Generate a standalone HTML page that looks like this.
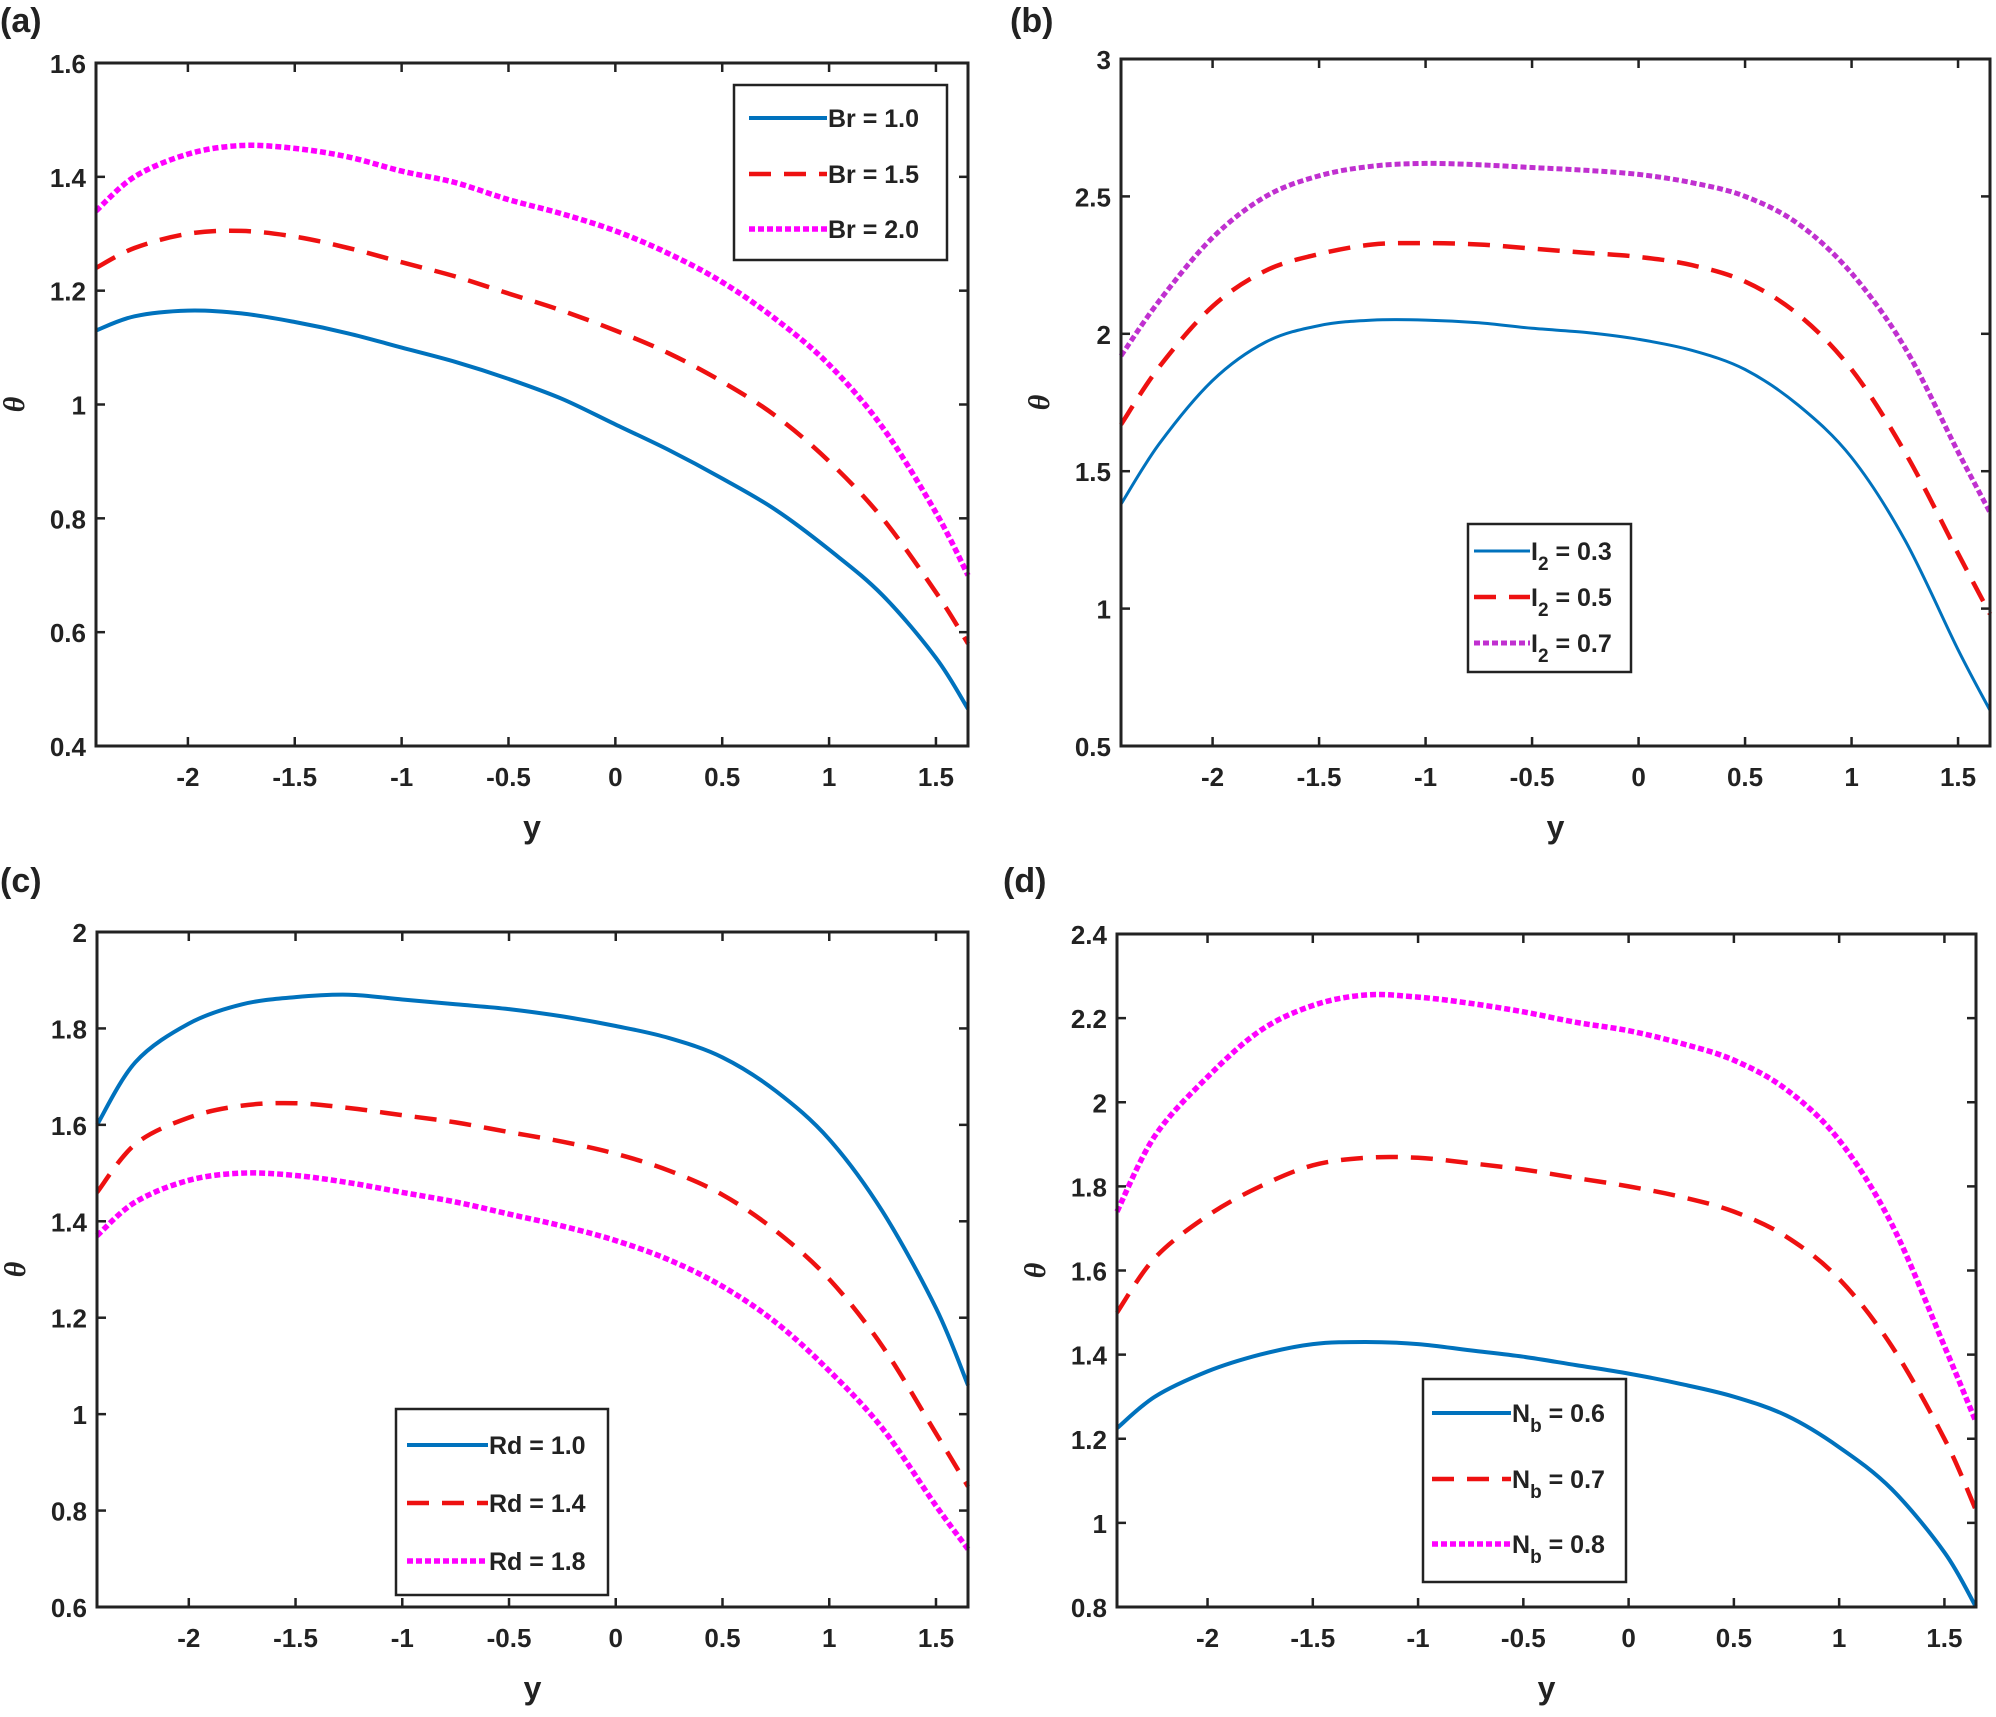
<!DOCTYPE html>
<html><head><meta charset="utf-8">
<style>
body{margin:0;background:#fff;}
svg text{font-family:"Liberation Sans",Arial,sans-serif;font-weight:bold;fill:#222;}
</style></head>
<body>
<svg id="fig" width="1996" height="1712" viewBox="0 0 1996 1712" xmlns="http://www.w3.org/2000/svg"></svg>
<script>
const xs = [-2.43,-2.25,-2,-1.75,-1.5,-1.25,-1,-0.75,-0.5,-0.25,0,0.25,0.5,0.75,1,1.25,1.5,1.65];
const xTicks = [-2,-1.5,-1,-0.5,0,0.5,1,1.5];
const xTickLabels = ["-2","-1.5","-1","-0.5","0","0.5","1","1.5"];

const aBlue = [1.13,1.155,1.165,1.16,1.145,1.125,1.10,1.075,1.045,1.01,0.965,0.92,0.87,0.815,0.745,0.665,0.555,0.465];
const aRed = [1.24,1.275,1.30,1.305,1.295,1.275,1.25,1.225,1.195,1.165,1.13,1.09,1.04,0.98,0.90,0.80,0.67,0.58];
const aMag = [1.34,1.40,1.44,1.455,1.45,1.435,1.41,1.39,1.36,1.335,1.305,1.265,1.215,1.15,1.07,0.96,0.81,0.70];
const aYTicks = [0.4,0.6,0.8,1,1.2,1.4,1.6];
const aYLabels = ["0.4","0.6","0.8","1","1.2","1.4","1.6"];

const bBlue = [1.38,1.6,1.83,1.97,2.03,2.05,2.05,2.04,2.02,2.005,1.98,1.94,1.87,1.74,1.55,1.25,0.85,0.63];
const bRed = [1.67,1.88,2.1,2.23,2.29,2.325,2.33,2.325,2.31,2.295,2.28,2.25,2.19,2.07,1.87,1.57,1.2,0.98];
const bMag = [1.92,2.12,2.35,2.5,2.575,2.61,2.62,2.615,2.605,2.595,2.58,2.55,2.5,2.4,2.22,1.95,1.57,1.35];
const bYTicks = [0.5,1,1.5,2,2.5,3];
const bYLabels = ["0.5","1","1.5","2","2.5","3"];

const cBlue = [1.60,1.73,1.81,1.85,1.865,1.87,1.86,1.85,1.84,1.825,1.805,1.78,1.74,1.67,1.57,1.42,1.22,1.06];
const cRed = [1.46,1.56,1.615,1.64,1.645,1.635,1.62,1.605,1.585,1.565,1.54,1.505,1.455,1.38,1.28,1.14,0.96,0.85];
const cMag = [1.37,1.44,1.485,1.5,1.495,1.48,1.46,1.44,1.415,1.39,1.36,1.32,1.265,1.19,1.09,0.97,0.81,0.72];
const cYTicks = [0.6,0.8,1,1.2,1.4,1.6,1.8,2];
const cYLabels = ["0.6","0.8","1","1.2","1.4","1.6","1.8","2"];

const dBlue = [1.225,1.30,1.36,1.40,1.425,1.43,1.425,1.41,1.395,1.375,1.355,1.33,1.30,1.255,1.18,1.08,0.93,0.80];
const dRed = [1.50,1.63,1.73,1.80,1.85,1.868,1.868,1.855,1.84,1.82,1.80,1.775,1.74,1.68,1.58,1.42,1.20,1.03];
const dMag = [1.74,1.92,2.06,2.17,2.23,2.255,2.25,2.235,2.215,2.19,2.17,2.14,2.1,2.03,1.91,1.71,1.42,1.24];
const dYTicks = [0.8,1,1.2,1.4,1.6,1.8,2,2.2,2.4];
const dYLabels = ["0.8","1","1.2","1.4","1.6","1.8","2","2.2","2.4"];

const NS="http://www.w3.org/2000/svg";
const svg=document.getElementById('fig');
function mk(tag,attrs,parent){const e=document.createElementNS(NS,tag);for(const k in attrs)e.setAttribute(k,attrs[k]);(parent||svg).appendChild(e);return e;}
const STY={blue:{stroke:'#0072BD',w:4,dash:''},blueThin:{stroke:'#0072BD',w:3,dash:''},red:{stroke:'#EE1111',w:4.5,dash:'22,13'},mag:{stroke:'#FF00FF',w:5.5,dash:'6,3'},purp:{stroke:'#C030D0',w:5,dash:'6,3'}};

function smooth(pts){
  let d='M'+pts[0][0].toFixed(1)+','+pts[0][1].toFixed(1);
  for(let i=0;i<pts.length-1;i++){
    const p0=pts[Math.max(0,i-1)],p1=pts[i],p2=pts[i+1],p3=pts[Math.min(pts.length-1,i+2)];
    const c1x=p1[0]+(p2[0]-p0[0])/6,c1y=p1[1]+(p2[1]-p0[1])/6;
    const c2x=p2[0]-(p3[0]-p1[0])/6,c2y=p2[1]-(p3[1]-p1[1])/6;
    d+='C'+c1x.toFixed(1)+','+c1y.toFixed(1)+' '+c2x.toFixed(1)+','+c2y.toFixed(1)+' '+p2[0].toFixed(1)+','+p2[1].toFixed(1);
  }
  return d;
}

function panel(p){
  const g=mk('g',{});
  
  
  const X=v=>p.L+(v-(-2.43))/(1.65-(-2.43))*(p.R-p.L);
  const Y=v=>p.B-(v-p.ymin)/(p.ymax-p.ymin)*(p.B-p.T);
  const lab=mk('text',{x:p.lx,y:p.ly,'font-size':34},g);lab.textContent='('+p.id+')';
  
  
  p.series.forEach(s=>{
    const st=STY[s.k];
    const pts=s.v.map((v,i)=>[X(xs[i]),Y(v)]);
    const path=mk('path',{d:smooth(pts),fill:'none',stroke:st.stroke,'stroke-width':st.w,'stroke-dasharray':st.dash,'stroke-linejoin':'round'},g);
    
    
  });
  const box=mk('rect',{x:p.L,y:p.T,width:p.R-p.L,height:p.B-p.T,fill:'none',stroke:'#222','stroke-width':3},g);
  
  
  xTicks.forEach((t,i)=>{
    const x=X(t);
    mk('line',{x1:x,x2:x,y1:p.B,y2:p.B-9,stroke:'#222','stroke-width':2.5},g);
    mk('line',{x1:x,x2:x,y1:p.T,y2:p.T+9,stroke:'#222','stroke-width':2.5},g);
    const tx=mk('text',{x:x,y:p.B+40,'font-size':26,'text-anchor':'middle'},g);tx.textContent=xTickLabels[i];
    
    
  });
  p.yt.forEach((t,i)=>{
    const y=Y(t);
    mk('line',{x1:p.L,x2:p.L+9,y1:y,y2:y,stroke:'#222','stroke-width':2.5},g);
    mk('line',{x1:p.R,x2:p.R-9,y1:y,y2:y,stroke:'#222','stroke-width':2.5},g);
    const tx=mk('text',{x:p.L-10,y:y+10,'font-size':26,'text-anchor':'end'},g);tx.textContent=p.yl[i];
    
    
  });
  const xl=mk('text',{x:(p.L+p.R)/2,y:p.B+92,'font-size':32,'text-anchor':'middle'},g);xl.textContent='y';
  
  
  const yx=p.L-72,yy=(p.T+p.B)/2;
  const yl=mk('text',{x:yx,y:yy,'font-size':30,'text-anchor':'middle','font-style':'italic',transform:'rotate(-90 '+yx+' '+yy+')'},g);
  yl.style.fontFamily='"Liberation Serif",serif';yl.textContent='θ';
  
  
  const lg=p.leg;
  const lgg=mk('g',{},g);
  
  
  mk('rect',{x:lg.x,y:lg.y,width:lg.w,height:lg.h,fill:'#fff',stroke:'#222','stroke-width':2.5},lgg);
  lg.items.forEach((it,i)=>{
    const st=STY[it.k];const y=lg.rows[i];
    const ent=mk('g',{},lgg);
    
    
    mk('line',{x1:lg.l1,x2:lg.l2,y1:y,y2:y,stroke:st.stroke,'stroke-width':st.w,'stroke-dasharray':st.dash},ent);
    const t=mk('text',{x:lg.l2+1,y:y+9,'font-size':25},ent);
    if(it.sub){t.textContent=it.a;const s=mk('tspan',{'font-size':19,dy:10},t);s.textContent=it.sub;const r=mk('tspan',{dy:-10},t);r.textContent=it.b;}
    else t.textContent=it.a;
  });
}

panel({id:'a',L:96,R:968,T:63,B:746,ymin:0.4,ymax:1.6,yt:aYTicks,yl:aYLabels,lx:0,ly:32,
  series:[{k:'blue',v:aBlue},{k:'red',v:aRed},{k:'mag',v:aMag}],
  leg:{x:734,y:85,w:213,h:175,l1:749,l2:827,rows:[118,174,229],items:[{k:'blue',a:'Br = 1.0'},{k:'red',a:'Br = 1.5'},{k:'mag',a:'Br = 2.0'}]}});
panel({id:'b',L:1121,R:1990,T:59,B:746,ymin:0.5,ymax:3,yt:bYTicks,yl:bYLabels,lx:1010,ly:32,
  series:[{k:'blueThin',v:bBlue},{k:'red',v:bRed},{k:'purp',v:bMag}],
  leg:{x:1468,y:524,w:163,h:148,l1:1474,l2:1530,rows:[551,597,643],items:[{k:'blueThin',a:'I',sub:'2',b:' = 0.3'},{k:'red',a:'I',sub:'2',b:' = 0.5'},{k:'purp',a:'I',sub:'2',b:' = 0.7'}]}});
panel({id:'c',L:97,R:968,T:932,B:1607,ymin:0.6,ymax:2,yt:cYTicks,yl:cYLabels,lx:0,ly:892,
  series:[{k:'blue',v:cBlue},{k:'red',v:cRed},{k:'mag',v:cMag}],
  leg:{x:396,y:1409,w:212,h:186,l1:407,l2:488,rows:[1445,1503,1561],items:[{k:'blue',a:'Rd = 1.0'},{k:'red',a:'Rd = 1.4'},{k:'mag',a:'Rd = 1.8'}]}});
panel({id:'d',L:1117,R:1976,T:934,B:1607,ymin:0.8,ymax:2.4,yt:dYTicks,yl:dYLabels,lx:1003,ly:892,
  series:[{k:'blue',v:dBlue},{k:'red',v:dRed},{k:'mag',v:dMag}],
  leg:{x:1423,y:1379,w:203,h:203,l1:1432,l2:1511,rows:[1413,1479,1544],items:[{k:'blue',a:'N',sub:'b',b:' = 0.6'},{k:'red',a:'N',sub:'b',b:' = 0.7'},{k:'mag',a:'N',sub:'b',b:' = 0.8'}]}});
</script>
</body></html>
